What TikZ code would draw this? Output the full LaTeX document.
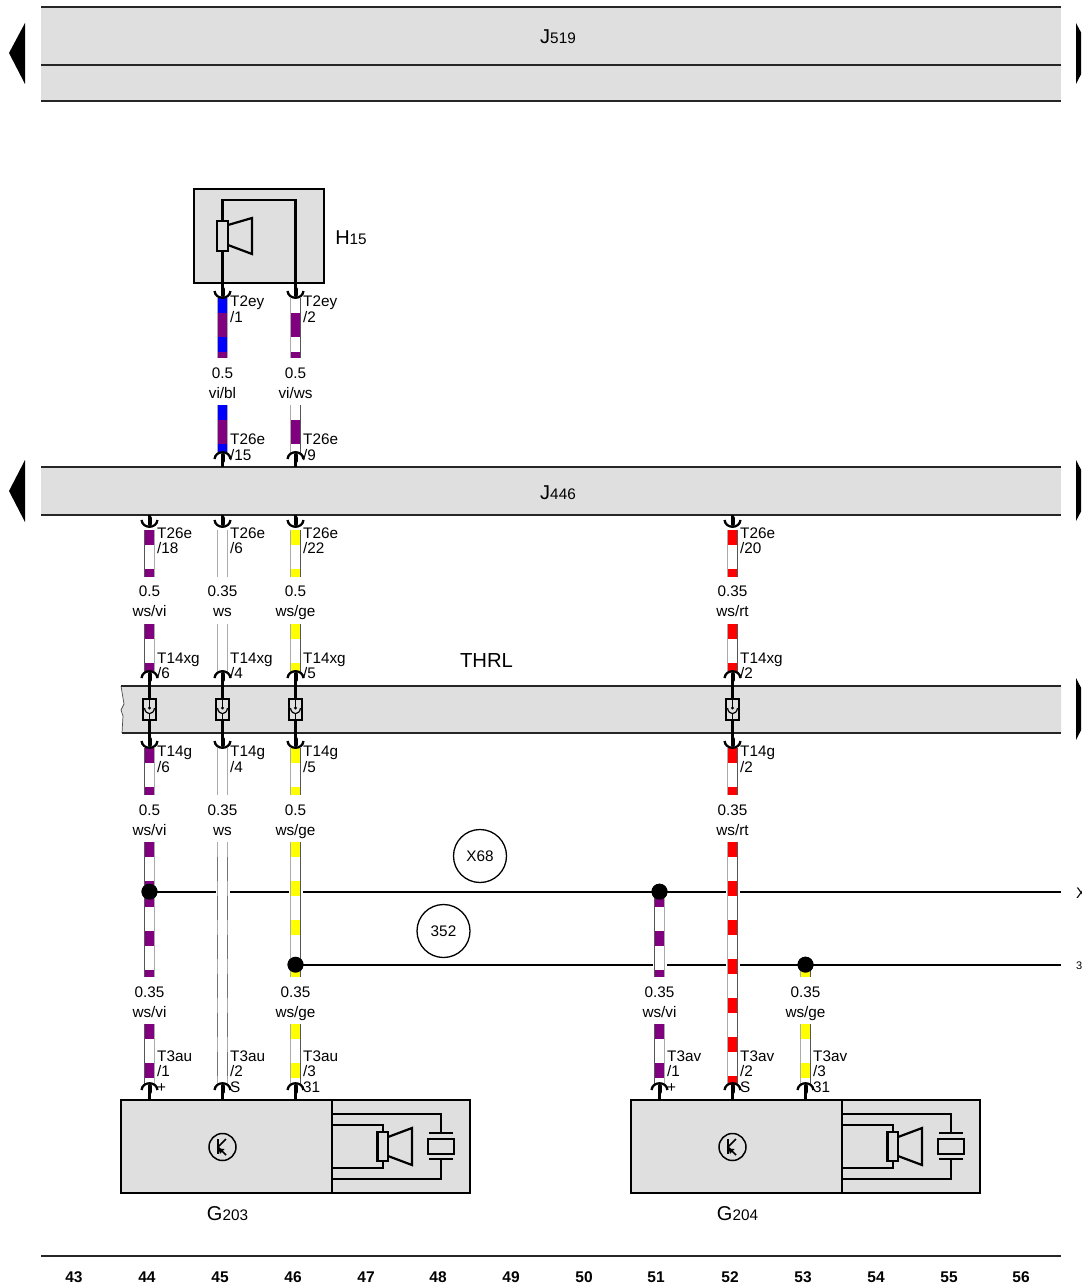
\documentclass[tikz,border=0pt]{standalone}
\usepackage{fontspec}
\setmainfont{Liberation Sans}
\definecolor{vi}{HTML}{800080}
\definecolor{bl}{HTML}{0000FF}
\definecolor{ge}{HTML}{FFFF00}
\definecolor{rt}{HTML}{FF0000}
\definecolor{bandgray}{HTML}{DFDFDF}
\definecolor{edgedark}{HTML}{555555}
\definecolor{edgelight}{HTML}{ABABAB}
\colorlet{eL149}{edgedark}\colorlet{eR149}{edgelight}
\colorlet{eL222}{edgelight}\colorlet{eR222}{edgelight}
\colorlet{eL295}{edgelight}\colorlet{eR295}{edgedark}
\colorlet{eL659}{edgedark}\colorlet{eR659}{edgelight}
\colorlet{eL732}{edgelight}\colorlet{eR732}{edgedark}
\colorlet{eL805}{edgelight}\colorlet{eR805}{edgedark}
\newcommand\smallfs{\fontsize{15.3}{15.3}\selectfont}
\newcommand\bigfs{\fontsize{20}{20}\selectfont}
\tikzset{
  x=1pt,y=-1pt,
  sym/.style={line width=2.2pt,black},
  pin/.style={line width=4pt,line cap=round,black},
  arcline/.style={line width=2.3pt,black},
  lab/.style={anchor=base west,inner sep=0pt,font=\smallfs},
  cab/.style={anchor=base,inner sep=0pt,font=\smallfs},
  num/.style={anchor=base,inner sep=0pt,font=\fontsize{15.5}{15.5}\selectfont\bfseries},
  big/.style={anchor=base,inner sep=0pt},
  band/.style={fill=bandgray},
  rule/.style={line width=1.6pt,black!85},
  devbox/.style={draw=black,line width=1.7pt,fill=bandgray},
  dot/.style={circle,fill=black,inner sep=0pt,minimum size=16pt},
  tag/.style={circle,draw=black,line width=1.3pt,fill=white,inner sep=0pt,minimum size=53pt,font=\smallfs},
  marker/.style={fill=black},
}
% x, y0, y1, base, bar colour, bar length, bar offset
\newcommand\wire[7]{%
  \fill[#4] (#1+.5-4.6,#2) rectangle (#1+.5+4.6,#3);
  \draw[eL#1,line width=1.1pt] (#1+.5-4.6,#2) -- (#1+.5-4.6,#3);
  \draw[eR#1,line width=1.1pt] (#1+.5+4.6,#2) -- (#1+.5+4.6,#3);
  \foreach \k in {0,...,7}{%
    \pgfmathsetmacro\ya{#2+#7+39*\k}%
    \pgfmathsetmacro\yb{min(\ya+#6,#3)}%
    \ifdim\ya pt<#3pt
      \path[fill=#5] (#1+.5-4.7,\ya) rectangle (#1+.5+4.7,\yb);
    \fi
  }%
}
\newcommand\wwire[4]{\wire{#1}{#2}{#3}{white}{#4}{15}{0}}
\newcommand\gap[2]{\fill[white] (#1+.5-7,#2-3) rectangle (#1+.5+7,#2+3);}
% arc open downward: x, arc top y, end of stem y
\newcommand\conup[3]{%
  \coordinate (u#1-#2) at (#1+.5,#2+3);
  \coordinate (ue#1-#2) at (#1+.5,#3);
  \draw[arcline] (#1+.5-8,#2+7) .. controls (#1+.5-7,#2-2) and (#1+.5+7,#2-2) .. (#1+.5+8,#2+7);
  \draw[sym] (u#1-#2) -- (ue#1-#2);
  \draw[pin] (u#1-#2) -- ++(0,6);
}
% arc open upward: x, arc bottom y, start of stem y
\newcommand\condown[3]{%
  \coordinate (d#1-#2) at (#1+.5,#2-3);
  \coordinate (ds#1-#2) at (#1+.5,#3);
  \draw[arcline] (#1+.5-8,#2-7) .. controls (#1+.5-7,#2+2) and (#1+.5+7,#2+2) .. (#1+.5+8,#2-7);
  \draw[sym] (ds#1-#2) -- (d#1-#2);
  \draw[pin] (d#1-#2) -- ++(0,-6);
}
\newcommand\plab[3]{\node[lab] (p#1-#2) at (#1+8,#2+5.5) {#3};}
\newcommand\clab[4]{%
  \node[cab] (c#1-#2) at (#1+.5,#2+5.5) {#3};
  \node[cab] (e#1-#2) at (#1+.5,#2+25) {#4};}
\newcommand\device[4]{% prefix, xshift, letter, number
  \begin{scope}[xshift=#2pt]
    \draw[devbox] (121,1100) rectangle (470,1193);
    \draw[sym] (332,1100) -- (332,1193);
    \coordinate (#1a) at (332,1114); \coordinate (#1b) at (441,1114); \coordinate (#1c) at (441,1133);
    \draw[sym] (#1a) -- (#1b) -- (#1c);
    \coordinate (#1d) at (332,1179); \coordinate (#1e) at (441,1179); \coordinate (#1f) at (441,1159);
    \draw[sym] (#1d) -- (#1e) -- (#1f);
    \draw[sym] (429,1133) -- (453,1133);
    \draw[sym] (429,1159) -- (453,1159);
    \draw[sym] (428,1139) rectangle (454,1154);
    \coordinate (#1g) at (332,1125); \coordinate (#1h) at (383,1125); \coordinate (#1i) at (383,1132);
    \draw[sym] (#1g) -- (#1h) -- (#1i);
    \coordinate (#1j) at (332,1168); \coordinate (#1k) at (383,1168); \coordinate (#1l) at (383,1161);
    \draw[sym] (#1j) -- (#1k) -- (#1l);
    \draw[sym] (377.5,1132) rectangle (388,1161);
    \draw[sym] (388,1137) -- (412,1128) -- (412,1165) -- (388,1156);
    \draw[line width=1.5pt] (222.5,1147) circle (13.5);
    \draw[line width=2pt] (217.5,1139) -- (217.5,1154);
    \draw[line width=1.7pt] (226,1139) -- (218,1147) -- (226,1155);
    \fill (218.5,1148.5) -- (224.5,1149) -- (220,1154) -- cycle;
    \node[big] (#1name) at (227.5,1220) {\bigfs #3\smallfs #4};
  \end{scope}
}
\begin{document}
\begin{tikzpicture}
\useasboundingbox (0,0) rectangle (1081,1287);
\clip (0,0) rectangle (1081,1287);
% ---- bands
\fill[band] (41,7) rectangle (1061,101);
\draw[rule] (41,7) -- (1061,7);
\draw[rule] (41,65) -- (1061,65);
\draw[rule] (41,101) -- (1061,101);
\node[big] (j519) at (558,44) {\bigfs J\smallfs 519};
\fill[marker] (25,23) -- (9,53) -- (25,84) -- cycle;
\fill[marker] (1076,23) -- (1092,53) -- (1076,84) -- cycle;
\fill[band] (41,467) rectangle (1061,515);
\draw[rule] (41,467) -- (1061,467);
\draw[rule] (41,515) -- (1061,515);
\node[big] (j446) at (558,499) {\bigfs J\smallfs 446};
\fill[marker] (25,460) -- (9,491) -- (25,522) -- cycle;
\fill[marker] (1076,460) -- (1092,491) -- (1076,521) -- cycle;
\fill[band] (121,686) -- (124,704) -- (121,710) -- (123,716) -- (122,733) -- (1061,733) -- (1061,686) -- cycle;
\draw[line width=.7pt,black!70] (121,686) -- (124,704) -- (121,710) -- (123,716) -- (122,733);
\draw[rule] (121,686) -- (1061,686);
\draw[rule] (122,733) -- (1061,733);
\fill[marker] (1076,678) -- (1092,709) -- (1076,740) -- cycle;
\node[big] (thrl) at (486.5,667) {\fontsize{20.3}{20}\selectfont THRL};
% ---- H15
\draw[draw=black,line width=1.5pt,fill=bandgray] (194,189) rectangle (324,283);
\coordinate (h1) at (222.5,283); \coordinate (h2) at (222.5,200);
\coordinate (h3) at (295.5,200); \coordinate (h4) at (295.5,283);
\draw[sym] (h1) -- (h2) -- (h3) -- (h4);
\draw[sym,fill=bandgray] (217,221) rectangle (228,251);
\draw[sym] (228,225) -- (252,218) -- (252,254) -- (228,245);
\node[big] (h15) at (351,244) {\bigfs H\smallfs 15};
% ---- horizontal lines
\node[dot] (dA) at (149.5,891.7) {};
\node[dot] (dB) at (659.5,891.7) {};
\node[dot] (dC) at (295.5,964.7) {};
\node[dot] (dD) at (805.5,964.7) {};
\coordinate (xend) at (1061,891.7);
\coordinate (gend) at (1061,964.7);
\draw[line width=1.7pt] (dA.center) -- (xend);
\draw[line width=1.7pt] (dC.center) -- (gend);
\gap{222}{891.7}\gap{295}{891.7}\gap{732}{891.7}
\gap{659}{964.7}\gap{732}{964.7}
\node[tag] (t68) at (480,856) {\raisebox{-2pt}{X68}};
\node[tag] (t352) at (443.5,931) {\raisebox{-1pt}{352}};
\node[anchor=base west,inner sep=0pt,font=\smallfs] (xcut) at (1076,898) {X};
\node[anchor=base west,inner sep=0pt,font=\fontsize{11}{11}\selectfont] (gcut) at (1076,969) {3};
% ---- wires H15 -- J446
\wire{222}{298}{358}{vi}{bl}{15}{0}
\wire{295}{298}{358}{white}{vi}{24}{15}
\wire{222}{405}{453}{vi}{bl}{15}{0}
\wire{295}{405}{453}{white}{vi}{24}{15}
% ---- wires J446 -- THRL
\wwire{149}{530}{577}{vi}
\wwire{222}{530}{577}{none}
\wwire{295}{530}{577}{ge}
\wwire{732}{530}{577}{rt}
\wwire{149}{624}{672}{vi}
\wwire{222}{624}{672}{none}
\wwire{295}{624}{672}{ge}
\wwire{732}{624}{672}{rt}
% ---- wires THRL -- splice
\wwire{149}{748}{795}{vi}
\wwire{222}{748}{795}{none}
\wwire{295}{748}{795}{ge}
\wwire{732}{748}{795}{rt}
% ---- long wires
\wwire{149}{842}{892}{vi}
\wwire{149}{892}{977}{vi}
\wwire{222}{842}{1085}{none}
\draw[black!55,line width=1.1pt,dash pattern=on 24pt off 15pt,dash phase=-15pt] (217.9,842) -- (217.9,1085);
\draw[black!55,line width=1.1pt,dash pattern=on 24pt off 15pt,dash phase=-15pt] (227.1,842) -- (227.1,1085);
\wwire{295}{842}{965}{ge}
\wwire{295}{965}{977}{ge}
\wwire{659}{892}{977}{vi}
\wwire{732}{842}{1085}{rt}
\wwire{805}{965}{977}{ge}
\wwire{149}{1024}{1085}{vi}
\wwire{295}{1024}{1085}{ge}
\wwire{659}{1024}{1085}{vi}
\wwire{805}{1024}{1085}{ge}
\node[dot] (dA2) at (dA) {};
\node[dot] (dB2) at (dB) {};
\node[dot] (dC2) at (dC) {};
\node[dot] (dD2) at (dD) {};
% ---- devices
\device{ga}{0}{G}{203}
\device{gb}{510}{G}{204}
% ---- connectors
\condown{222}{298}{283}
\condown{295}{298}{283}
\conup{222}{452}{467}
\conup{295}{452}{467}
\foreach \x in {149,222,295,732}{
  \condown{\x}{527}{515}
  \conup{\x}{671}{699}
  \condown{\x}{748}{720}
  \draw[line width=1.5pt,fill=bandgray] (\x+.5-6.5,699) rectangle (\x+.5+6.5,720);
  \coordinate (sa\x) at (\x+.5,699); \coordinate (sb\x) at (\x+.5,708);
  \coordinate (sc\x) at (\x+.5,720); \coordinate (sd\x) at (\x+.5,714);
  \draw[line width=1.5pt] (sa\x) -- (sb\x);
  \draw[line width=1.5pt] (sc\x) -- (sd\x);
  \fill (sb\x) circle (1.6);
  \draw[line width=1.2pt] (\x+.5-5,708) .. controls (\x+.5-4,715.5) and (\x+.5+4,715.5) .. (\x+.5+5,708);
}
\foreach \x in {149,222,295,659,732,805}{
  \conup{\x}{1083}{1100}
}
% ---- pin labels
\plab{222}{301}{T2ey}\plab{222}{317}{/1}
\plab{295}{301}{T2ey}\plab{295}{317}{/2}
\plab{222}{439}{T26e}\plab{222}{455}{/15}
\plab{295}{439}{T26e}\plab{295}{455}{/9}
\plab{149}{533}{T26e}\plab{149}{548}{/18}
\plab{222}{533}{T26e}\plab{222}{548}{/6}
\plab{295}{533}{T26e}\plab{295}{548}{/22}
\plab{732}{533}{T26e}\plab{732}{548}{/20}
\plab{149}{658}{T14xg}\plab{149}{673}{/6}
\plab{222}{658}{T14xg}\plab{222}{673}{/4}
\plab{295}{658}{T14xg}\plab{295}{673}{/5}
\plab{732}{658}{T14xg}\plab{732}{673}{/2}
\plab{149}{751}{T14g}\plab{149}{767}{/6}
\plab{222}{751}{T14g}\plab{222}{767}{/4}
\plab{295}{751}{T14g}\plab{295}{767}{/5}
\plab{732}{751}{T14g}\plab{732}{767}{/2}
\plab{149}{1056}{T3au}\plab{149}{1071}{/1}\plab{149}{1087}{+}
\plab{222}{1056}{T3au}\plab{222}{1071}{/2}\plab{222}{1087}{S}
\plab{295}{1056}{T3au}\plab{295}{1071}{/3}\plab{295}{1087}{31}
\plab{659}{1056}{T3av}\plab{659}{1071}{/1}\plab{659}{1087}{+}
\plab{732}{1056}{T3av}\plab{732}{1071}{/2}\plab{732}{1087}{S}
\plab{805}{1056}{T3av}\plab{805}{1071}{/3}\plab{805}{1087}{31}
% ---- cable labels
\clab{222}{373}{0.5}{vi/bl}
\clab{295}{373}{0.5}{vi/ws}
\clab{149}{591}{0.5}{ws/vi}
\clab{222}{591}{0.35}{ws}
\clab{295}{591}{0.5}{ws/ge}
\clab{732}{591}{0.35}{ws/rt}
\clab{149}{810}{0.5}{ws/vi}
\clab{222}{810}{0.35}{ws}
\clab{295}{810}{0.5}{ws/ge}
\clab{732}{810}{0.35}{ws/rt}
\clab{149}{992}{0.35}{ws/vi}
\clab{295}{992}{0.35}{ws/ge}
\clab{659}{992}{0.35}{ws/vi}
\clab{805}{992}{0.35}{ws/ge}
% ---- footer
\draw[rule] (41,1256) -- (1061,1256);
\foreach \n/\x in {43/74,44/147,45/220,46/293,47/366,48/438,49/511,50/584,51/656,52/730,53/803,54/876,55/949,56/1021}{
  \node[num] (f\n) at (\x,1282) {\n};
}
\end{tikzpicture}
\end{document}
